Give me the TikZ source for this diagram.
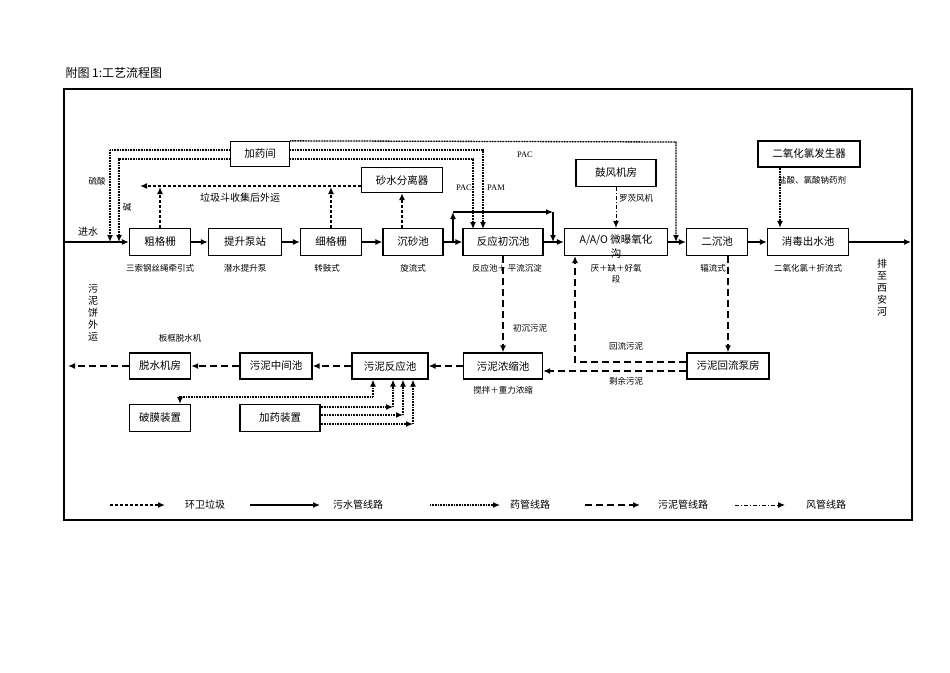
\documentclass[tikz,border=0pt]{standalone}
\usepackage{fontspec}
\setmainfont{Liberation Serif}
\newfontfamily\cjk{Noto Sans CJK SC}
\usetikzlibrary{arrows.meta,calc}
\tikzset{
  box/.style={draw,line width=1.3pt,minimum height=27pt,inner sep=1pt,font=\cjk\fontsize{10.5}{12}\selectfont},
  lbl/.style={font=\cjk\fontsize{8.5}{10}\selectfont,inner sep=1pt},
  water/.style={line width=1.3pt,-{Latex[length=7pt,width=6pt]}},
  trash/.style={line width=1.3pt,dash pattern=on 3pt off 2pt,-{Latex[length=7pt,width=6pt]}},
  sludge/.style={line width=1.4pt,dash pattern=on 7pt off 4pt,-{Latex[length=7pt,width=6pt]}},
  drug/.style={line width=1.3pt,dash pattern=on 1pt off 0.6pt,-{Latex[length=7pt,width=6pt]}},
  wind/.style={line width=1pt,dash pattern=on 4pt off 2pt on 1pt off 2pt,-{Latex[length=7pt,width=6pt]}},
}
\begin{document}
\begin{tikzpicture}[x=1pt,y=-1pt]
  \useasboundingbox (0,0) rectangle (950,672);
  \node[anchor=west,font=\cjk\fontsize{12}{14}\selectfont] at (62,73) {附图 1:工艺流程图};
  \draw[line width=2pt] (64,89) rectangle (912,520);

  % main water line
  \node[box,minimum width=61pt]  (cgs) at (160,242) {粗格栅};
  \node[box,minimum width=73pt]  (tsb) at (245,242) {提升泵站};
  \node[box,minimum width=61pt]  (xgs) at (331,242) {细格栅};
  \node[box,minimum width=60pt]  (csc) at (413,242) {沉砂池};
  \node[box,minimum width=80pt]  (fyc) at (503,242) {反应初沉池};
  \node[box,minimum width=103pt] (aao) at (616,242) {};
  \node[font=\cjk\fontsize{10.5}{12}\selectfont] at (616,240) {A/A/O 微曝氧化};
  \node[font=\cjk\fontsize{10.5}{12}\selectfont] at (616,254) {沟};
  \node[box,minimum width=61pt]  (ecc) at (717,242) {二沉池};
  \node[box,minimum width=81pt]  (xdc) at (808,242) {消毒出水池};
  \coordinate (in) at (64,242);
  \coordinate (out) at (911,242);
  \draw[water] (in) -- (cgs);
  \draw[water] (cgs) -- (tsb);
  \draw[water] (tsb) -- (xgs);
  \draw[water] (xgs) -- (csc);
  \draw[water] (csc) -- (fyc);
  \draw[water] (fyc) -- (aao);
  \draw[water] (aao) -- (ecc);
  \draw[water] (ecc) -- (xdc);
  \draw[water] (xdc) -- (out);
  \node[lbl,font=\cjk\fontsize{10}{12}\selectfont] at (88,232) {进水};
  % bypass
  \draw[water] (453,242) -- (453,212);
  \draw[water] (453,212) -- (553,212);
  \draw[water] (553,212) -- (553,242);

  % dosing house
  \node[box,minimum width=59pt,minimum height=25pt] (jyj) at (260,154) {加药间};
  \draw[drug] (jyj.west |- 0,150) -- (110,150) -- (110,242);
  \draw[drug] (jyj.west |- 0,159) -- (119,159) -- (119,242);
  \draw[drug] (jyj.east |- 0,150) -- (483,150) -- (483,229);
  \draw[drug] (jyj.east |- 0,159) -- (473,159) -- (473,229);
  \draw[drug] (jyj.north east) -- (676,142) -- (676,242);
  \node[lbl] at (97,181) {硫酸};
  \node[lbl] at (127,207) {碱};
  \node[lbl,font=\fontsize{8.5}{10}\selectfont] at (525,155) {PAC};
  \node[lbl,font=\fontsize{8.5}{10}\selectfont] at (464,188) {PAC};
  \node[lbl,font=\fontsize{8.5}{10}\selectfont] at (496,188) {PAM};

  % grit and screenings
  \node[box,minimum width=81pt,minimum height=25pt] (ssf) at (402,180) {砂水分离器};
  \draw[trash] (csc.north -| ssf) -- (ssf.south);
  \draw[trash] (ssf.west |- 0,186) -- (140,186);
  \draw[trash] (cgs.north) -- (160,187);
  \draw[trash] (xgs.north) -- (331,187);
  \node[lbl,font=\cjk\fontsize{10}{12}\selectfont] at (240,198) {垃圾斗收集后外运};

  % blower and chlorine dioxide
  \node[box,minimum width=80pt] (gfj) at (616,173) {鼓风机房};
  \draw[wind] (gfj.south) -- (aao.north);
  \node[lbl] at (636,198) {罗茨风机};
  \node[box,minimum width=102pt,minimum height=26pt] (eyh) at (809,154) {二氧化氯发生器};
  \draw[drug] (eyh.south -| 780,0) -- (xdc.north -| 780,0);
  \node[lbl] at (812,180) {盐酸、氯酸钠药剂};

  % process notes
  \foreach \x/\txt in {160/三索钢丝绳牵引式, 245/潜水提升泵, 327/转鼓式, 413/旋流式,
                       507/反应池＋\ 平流沉淀, 616/厌＋缺＋好氧, 713/辐流式, 808/二氧化氯＋折流式} {
    \node[lbl] at (\x,268) {\txt};
  }
  \node[lbl] at (616,279) {段};
  \node[lbl,font=\cjk\fontsize{10}{12}\selectfont,text width=10pt,align=center] at (882,288) {排\\至\\西\\安\\河};
  \node[lbl,font=\cjk\fontsize{10}{12}\selectfont,text width=10pt,align=center] at (93,313) {污\\泥\\饼\\外\\运};

  % sludge line
  \node[box,minimum width=61pt,minimum height=26pt] (tsj) at (160,366) {脱水机房};
  \node[box,minimum width=72pt,minimum height=26pt] (zjc) at (276,366) {污泥中间池};
  \node[box,minimum width=76pt,minimum height=26pt] (wfy) at (390,366) {污泥反应池};
  \node[box,minimum width=79pt,minimum height=26pt] (nsc) at (503,366) {污泥浓缩池};
  \node[box,minimum width=82pt,minimum height=26pt] (hlb) at (728,366) {污泥回流泵房};
  \coordinate (cake) at (68,366);
  \draw[sludge] (fyc.south) -- (nsc.north);
  \draw[sludge] (ecc.south -| hlb) -- (hlb.north);
  \draw[sludge] (hlb.west |- 0,362) -- (575,362) -- (575,256);
  \draw[sludge] (hlb.west |- 0,371) -- (nsc.east |- 0,371);
  \draw[sludge] (nsc) -- (wfy);
  \draw[sludge] (wfy) -- (zjc);
  \draw[sludge] (zjc) -- (tsj);
  \draw[sludge] (tsj) -- (cake);
  \node[lbl] at (530,328) {初沉污泥};
  \node[lbl] at (626,346) {回流污泥};
  \node[lbl] at (626,381) {剩余污泥};
  \node[lbl] at (180,338) {板框脱水机};
  \node[lbl] at (503,390) {搅拌＋重力浓缩};

  % conditioning
  \node[box,minimum width=61pt] (pmz) at (160,418) {破膜装置};
  \node[box,minimum width=80pt] (jyz) at (280,418) {加药装置};
  \draw[drug,{Latex[length=7pt,width=6pt]}-] (pmz.north -| 180,0) -- (180,397) -- (373,397);
  \draw[drug] (373,397) -- (wfy.south -| 373,0);
  \foreach \y/\x in {407/393, 415/403, 424/413} {
    \draw[drug] (jyz.east |- 0,\y) -- (\x,\y);
    \draw[drug] (\x,\y) -- (wfy.south -| \x,0);
  }

  % legend
  \foreach \a/\b/\s/\t/\c in {110/165/trash/环卫垃圾/205, 250/320/water/污水管线路/358,
                              430/500/drug/药管线路/530, 585/640/sludge/污泥管线路/683,
                              735/785/wind/风管线路/826} {
    \draw[\s] (\a,505) -- (\b,505);
    \node[lbl,font=\cjk\fontsize{10}{12}\selectfont] at (\c,505) {\t};
  }
\end{tikzpicture}
\end{document}
